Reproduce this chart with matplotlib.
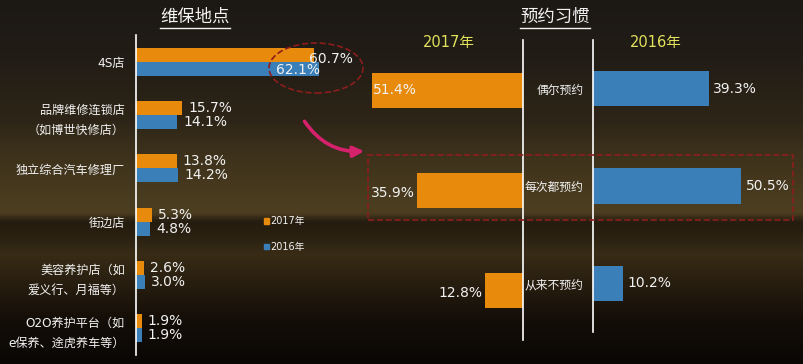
import numpy as np
import matplotlib.pyplot as plt
from matplotlib.colors import LinearSegmentedColormap
from matplotlib.lines import Line2D
from matplotlib.patches import Ellipse, Rectangle, FancyArrowPatch, Patch

plt.rcParams['font.family'] = ['DejaVu Sans', 'Noto Sans CJK SC']

# data
loc_categories = ['4S店', '品牌维修连锁店\n（如博世快修店）', '独立综合汽车修理厂', '街边店',
                  '美容养护店（如\n爱义行、月福等）', 'O2O养护平台（如\ne保养、途虎养车等）']
loc_2017 = [60.7, 15.7, 13.8, 5.3, 2.6, 1.9]
loc_2016 = [62.1, 14.1, 14.2, 4.8, 3.0, 1.9]
habit_categories = ['偶尔预约', '每次都预约', '从来不预约']
habit_2017 = [51.4, 35.9, 12.8]
habit_2016 = [39.3, 50.5, 10.2]
years = ['2017年', '2016年']
titles = ['维保地点', '预约习惯']

ORANGE = '#e88b0c'
BLUE = '#3b7fb8'
TEXT = '#f2f2f2'
YELLOW = '#e2e25c'
DARKRED = '#8c1d1d'
PX = 2.94  # pixels per percent

W, H = 804, 364
fig = plt.figure(figsize=(W / 100, H / 100), dpi=100)


def fx(px):
    return px / W


def fy(py):
    return 1 - py / H


# background gradient (top -> bottom)
bg = fig.add_axes([0, 0, 1, 1], zorder=-10)
stops = [(0.0, '#1c1814'), (0.165, '#221d16'), (0.33, '#2d2517'), (0.41, '#3b301b'),
         (0.55, '#4a3c1f'), (0.585, '#4d3e20'), (0.61, '#251c10'), (0.645, '#292011'),
         (0.70, '#382c16'), (0.78, '#281e10'), (0.88, '#140e08'), (1.0, '#0a0705')]
cmap = LinearSegmentedColormap.from_list('bg', stops)
bg.imshow(np.linspace(0, 1, 364)[:, None], cmap=cmap, aspect='auto', extent=[0, 1, 0, 1])
bg.axis('off')

# ---- left chart: 维保地点 ----
ax1 = fig.add_axes([fx(136), fy(355), fx(76 * PX), 320 / H])
y = np.arange(len(loc_categories))
ax1.barh(y - 0.13, loc_2017, height=0.26, color=ORANGE)
ax1.barh(y + 0.13, loc_2016, height=0.26, color=BLUE)
ax1.set_xlim(0, 76)
ax1.set_ylim(5.5, -0.5)
ax1.set_facecolor('none')
for s in ['top', 'right', 'bottom']:
    ax1.spines[s].set_visible(False)
ax1.spines['left'].set_color('white')
ax1.spines['left'].set_linewidth(1.2)
ax1.set_xticks([])
ax1.set_yticks(y, loc_categories, fontsize=8.7, color=TEXT)
ax1.tick_params(axis='y', length=0, pad=8)
for t in ax1.get_yticklabels():
    t.set_linespacing(1.7)

for i, (a, b) in enumerate(zip(loc_2017, loc_2016)):
    if i == 0:
        ax1.annotate(f'{a:.1f}%', (a, i - 0.13), xytext=(-4, -3), textcoords='offset points',
                     ha='left', va='center', fontsize=10, color=TEXT)
        ax1.annotate(f'{b:.1f}%', (b, i + 0.13), xytext=(1, -1), textcoords='offset points',
                     ha='right', va='center', fontsize=10, color=TEXT)
    else:
        ax1.annotate(f'{a:.1f}%', (a, i - 0.13), xytext=(4.5, 0), textcoords='offset points',
                     ha='left', va='center', fontsize=10, color=TEXT)
        ax1.annotate(f'{b:.1f}%', (b, i + 0.13), xytext=(4.5, 0), textcoords='offset points',
                     ha='left', va='center', fontsize=10, color=TEXT)

ax1.legend(handles=[Patch(color=ORANGE, label=years[0]), Patch(color=BLUE, label=years[1])],
           loc='center left', bbox_to_anchor=(fx(255), fy(234)), bbox_transform=fig.transFigure,
           frameon=False, fontsize=7, handlelength=0.5, handleheight=0.5, handletextpad=0.2,
           labelspacing=1.6, labelcolor=TEXT)

# ---- right chart: 预约习惯 ----
yh = np.arange(len(habit_categories))
ax2 = fig.add_axes([fx(523 - 55 * PX), fy(340), fx(55 * PX), 300 / H])
ax2.barh(yh, habit_2017, height=0.35, color=ORANGE)
ax2.set_xlim(55, 0)
ax2.set_ylim(2.5, -0.5)
ax3 = fig.add_axes([fx(593), fy(332), fx(70 * PX), 292 / H])
ax3.barh(yh, habit_2016, height=0.36, color=BLUE)
ax3.set_xlim(0, 70)
ax3.set_ylim(2.5, -0.5)
for ax, keep in [(ax2, 'right'), (ax3, 'left')]:
    ax.set_facecolor('none')
    for s in ['top', 'right', 'bottom', 'left']:
        ax.spines[s].set_visible(s == keep)
    ax.spines[keep].set_color('white')
    ax.spines[keep].set_linewidth(1.2)
    ax.set_xticks([])
    ax.set_yticks([])
ax3.set_yticks(yh, habit_categories, fontsize=8.5, color=TEXT)
ax3.tick_params(axis='y', length=0, pad=7)

for i, v in enumerate(habit_2017):
    if i == 0:
        ax2.annotate(f'{v:.1f}%', (v, i), xytext=(1, 0), textcoords='offset points',
                     ha='left', va='center', fontsize=10, color=TEXT)
    else:
        ax2.annotate(f'{v:.1f}%', (v, i), xytext=(-2, -2), textcoords='offset points',
                     ha='right', va='center', fontsize=10, color=TEXT)
for i, v in enumerate(habit_2016):
    ax3.annotate(f'{v:.1f}%', (v, i), xytext=(3, 0), textcoords='offset points',
                 ha='left', va='center', fontsize=10, color=TEXT)

fig.text(fx(449), fy(42), years[0], ha='center', va='center', fontsize=10.5, color=YELLOW)
fig.text(fx(656), fy(42), years[1], ha='center', va='center', fontsize=10.5, color=YELLOW)

# titles with underline
title_artists = [fig.text(fx(195), fy(17), titles[0], ha='center', va='center', fontsize=12.5, color=TEXT),
                 fig.text(fx(555), fy(17), titles[1], ha='center', va='center', fontsize=12.5, color=TEXT)]
fig.canvas.draw()
inv = fig.transFigure.inverted()
for t in title_artists:
    bb = t.get_window_extent().transformed(inv)
    fig.add_artist(Line2D([bb.x0, bb.x1], [fy(28), fy(28)], color=TEXT, lw=1,
                          transform=fig.transFigure))

# highlights
fig.add_artist(Ellipse((fx(316), fy(68)), fx(94), 50 / H, fill=False, ec=DARKRED,
                       ls='--', lw=1.2, transform=fig.transFigure))
fig.add_artist(Rectangle((fx(368), fy(220)), fx(793 - 368), 65 / H, fill=False, ec=DARKRED,
                         ls='--', lw=1.2, transform=fig.transFigure))
fig.add_artist(FancyArrowPatch((fx(303), fy(119)), (fx(367), fy(151)), transform=fig.transFigure,
                               connectionstyle='arc3,rad=0.3', arrowstyle='-|>',
                               mutation_scale=16, color='#d6216d', lw=2.6))

fig.savefig('out.png', dpi=100)
